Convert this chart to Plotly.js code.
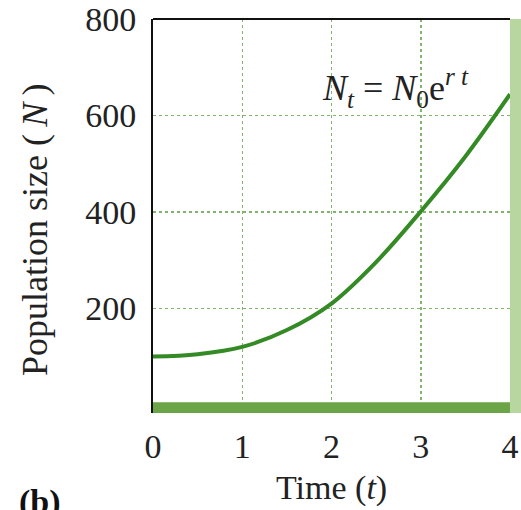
<!DOCTYPE html>
<html>
<head>
<meta charset="utf-8">
<script src="https://cdn.plot.ly/plotly-3.0.1.min.js"></script>
<style>html,body{margin:0;padding:0;background:#fff;}#chart{width:521px;height:510px;}</style>
</head>
<body>
<div id="chart"></div>
<script>
var timeVals = [0, 0.5, 1, 1.5, 2, 2.5, 3, 3.5, 4];
var popVals = [100, 105, 120, 155, 210, 296, 401, 515, 644];
var xTicks = [0, 1, 2, 3, 4];
var yTicks = [200, 400, 600, 800];
var xTitle = 'Time (<i>t</i>)';
var yTitle = 'Population size (\u2009<i>N</i>\u2009)';
var equation = '<i>N<sub>t</sub></i> = <i>N</i><sub>0</sub>e<sup><i>r t</i></sup>';
var panelLabel = '<b>(b)</b>';

var serif = 'Liberation Serif, Times New Roman, serif';
var gridCol = 'rgb(130,180,110)';
var fs = 34;

var trace = {
  x: timeVals, y: popVals, type: 'scatter', mode: 'lines',
  line: {color: 'rgb(52,138,36)', width: 4, shape: 'spline', smoothing: 1},
  hoverinfo: 'skip', cliponaxis: true
};

var layout = {
  width: 521, height: 510,
  margin: {l: 153, r: 11, t: 19, b: 97},
  paper_bgcolor: '#fff', plot_bgcolor: '#fff',
  showlegend: false,
  xaxis: {
    range: [0, 4], tickvals: xTicks, ticktext: xTicks.map(String),
    showgrid: true, gridcolor: gridCol, gridwidth: 1.5, griddash: 'dot',
    zeroline: false, showline: false,
    ticks: 'outside', ticklen: 3, tickcolor: 'rgba(0,0,0,0)',
    tickfont: {family: serif, size: fs, color: '#222'}
  },
  yaxis: {
    range: [-17, 800], tickvals: yTicks, ticktext: yTicks.map(String),
    showgrid: true, gridcolor: gridCol, gridwidth: 1.5, griddash: 'dot',
    zeroline: false, showline: true, linecolor: '#111', linewidth: 2,
    ticks: 'outside', ticklen: 8, tickcolor: 'rgba(0,0,0,0)',
    tickfont: {family: serif, size: fs, color: '#222'}
  },
  shapes: [
    {type: 'line', xref: 'paper', yref: 'paper', x0: 0, x1: 1, y0: 1, y1: 1,
     line: {color: '#111', width: 2}},
    {type: 'rect', xref: 'x', yref: 'y', x0: 0, x1: 4, y0: -17, y1: 5.5,
     fillcolor: 'rgb(107,165,72)', line: {width: 0}, layer: 'above'},
    {type: 'rect', xref: 'paper', yref: 'paper', x0: 1, x1: 1.035, y0: 0, y1: 1,
     fillcolor: 'rgb(183,214,160)', line: {width: 0}, layer: 'above'}
  ],
  annotations: [
    {text: yTitle, xref: 'paper', yref: 'paper', x: -0.33, y: 0.465,
     xanchor: 'center', yanchor: 'middle', textangle: -90, showarrow: false,
     font: {family: serif, size: 36, color: '#222'}},
    {text: xTitle, xref: 'paper', yref: 'paper', x: 0.5, y: -0.19,
     xanchor: 'center', yanchor: 'middle', showarrow: false,
     font: {family: serif, size: fs, color: '#222'}},
    {text: equation, xref: 'paper', yref: 'paper', x: 0.68, y: 0.825,
     xanchor: 'center', yanchor: 'middle', showarrow: false,
     font: {family: serif, size: 36, color: '#222'}},
    {text: panelLabel, xref: 'paper', yref: 'paper', x: -0.382, y: -0.226,
     xanchor: 'left', yanchor: 'middle', showarrow: false,
     font: {family: serif, size: fs, color: '#111'}}
  ]
};

Plotly.newPlot('chart', [trace], layout, {displayModeBar: false, staticPlot: true});
</script>
</body>
</html>
